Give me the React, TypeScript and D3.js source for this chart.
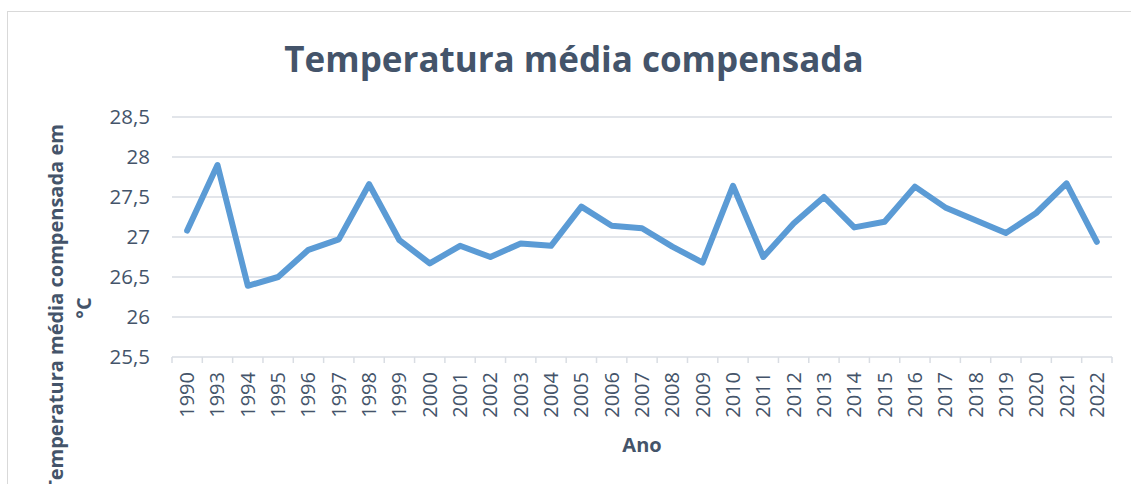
import React from "react";
import * as d3 from "d3";

const years = ["1990","1993","1994","1995","1996","1997","1998","1999","2000","2001","2002","2003","2004","2005","2006","2007","2008","2009","2010","2011","2012","2013","2014","2015","2016","2017","2018","2019","2020","2021","2022"];
const temps = [27.08,27.9,26.39,26.5,26.84,26.97,27.66,26.96,26.67,26.89,26.75,26.92,26.89,27.38,27.14,27.11,26.88,26.68,27.64,26.75,27.17,27.5,27.12,27.19,27.63,27.37,27.21,27.05,27.3,27.67,26.94];
const yTicks = [25.5, 26, 26.5, 27, 27.5, 28, 28.5];

const W = 1131, H = 484;
const textColor = "#44546a";
const font = "'Open Sans', 'Noto Sans', sans-serif";

export default function App() {
  const x = d3.scaleBand<string>().domain(years).range([172, 1112]);
  const y = d3.scaleLinear().domain([25.5, 28.5]).range([357, 117]);
  const line = d3.line<number>()
    .x((_, i) => (x(years[i]) as number) + x.bandwidth() / 2)
    .y((d) => y(d));
  const fmt = (v: number) => String(v).replace(".", ",");
  const bounds = years.map((yr) => x(yr) as number).concat([x.range()[1]]);

  return (
    <svg width={W} height={H} style={{ position: "absolute", left: 0, top: 0, background: "#fff" }} fontFamily={font}>
      <rect x={7.5} y={11.5} width={1140} height={500} fill="#fff" stroke="#d9d9d9" strokeWidth={1} />
      <text x={574} y={72} textAnchor="middle" fontSize={35} fontWeight="bold" fill={textColor}>
        Temperatura média compensada
      </text>
      {yTicks.map((t) => (
        <g key={t}>
          {t !== 25.5 && (
            <line x1={172} x2={1112} y1={y(t)} y2={y(t)} stroke="#d9dde3" strokeWidth={1.5} />
          )}
          <text x={150} y={y(t)} dy="0.35em" textAnchor="end" fontSize={20.5} fill={textColor}>
            {fmt(t)}
          </text>
        </g>
      ))}
      <line x1={172} x2={1112} y1={y(25.5)} y2={y(25.5)} stroke="#d9dde3" strokeWidth={1.5} />
      {bounds.map((b, i) => (
        <line key={i} x1={b} x2={b} y1={y(25.5)} y2={y(25.5) + 6} stroke="#d9dde3" strokeWidth={1.5} />
      ))}
      {years.map((yr) => {
        const cx = (x(yr) as number) + x.bandwidth() / 2;
        return (
          <text key={yr} transform={`translate(${cx},372) rotate(-90)`} textAnchor="end" dy="0.35em" fontSize={20} fill={textColor}>
            {yr}
          </text>
        );
      })}
      <path d={line(temps) as string} fill="none" stroke="#5b9bd5" strokeWidth={6} strokeLinejoin="round" strokeLinecap="round" />
      <text x={642} y={452} textAnchor="middle" fontSize={20} fontWeight="bold" fill={textColor}>
        Ano
      </text>
      <text transform="translate(73,308) rotate(-90)" textAnchor="middle" fontSize={20} fontWeight="bold" fill={textColor}>
        <tspan x={0} dy="-0.5em">Temperatura média compensada em</tspan>
        <tspan x={0} dy="1.4em">°C</tspan>
      </text>
    </svg>
  );
}
